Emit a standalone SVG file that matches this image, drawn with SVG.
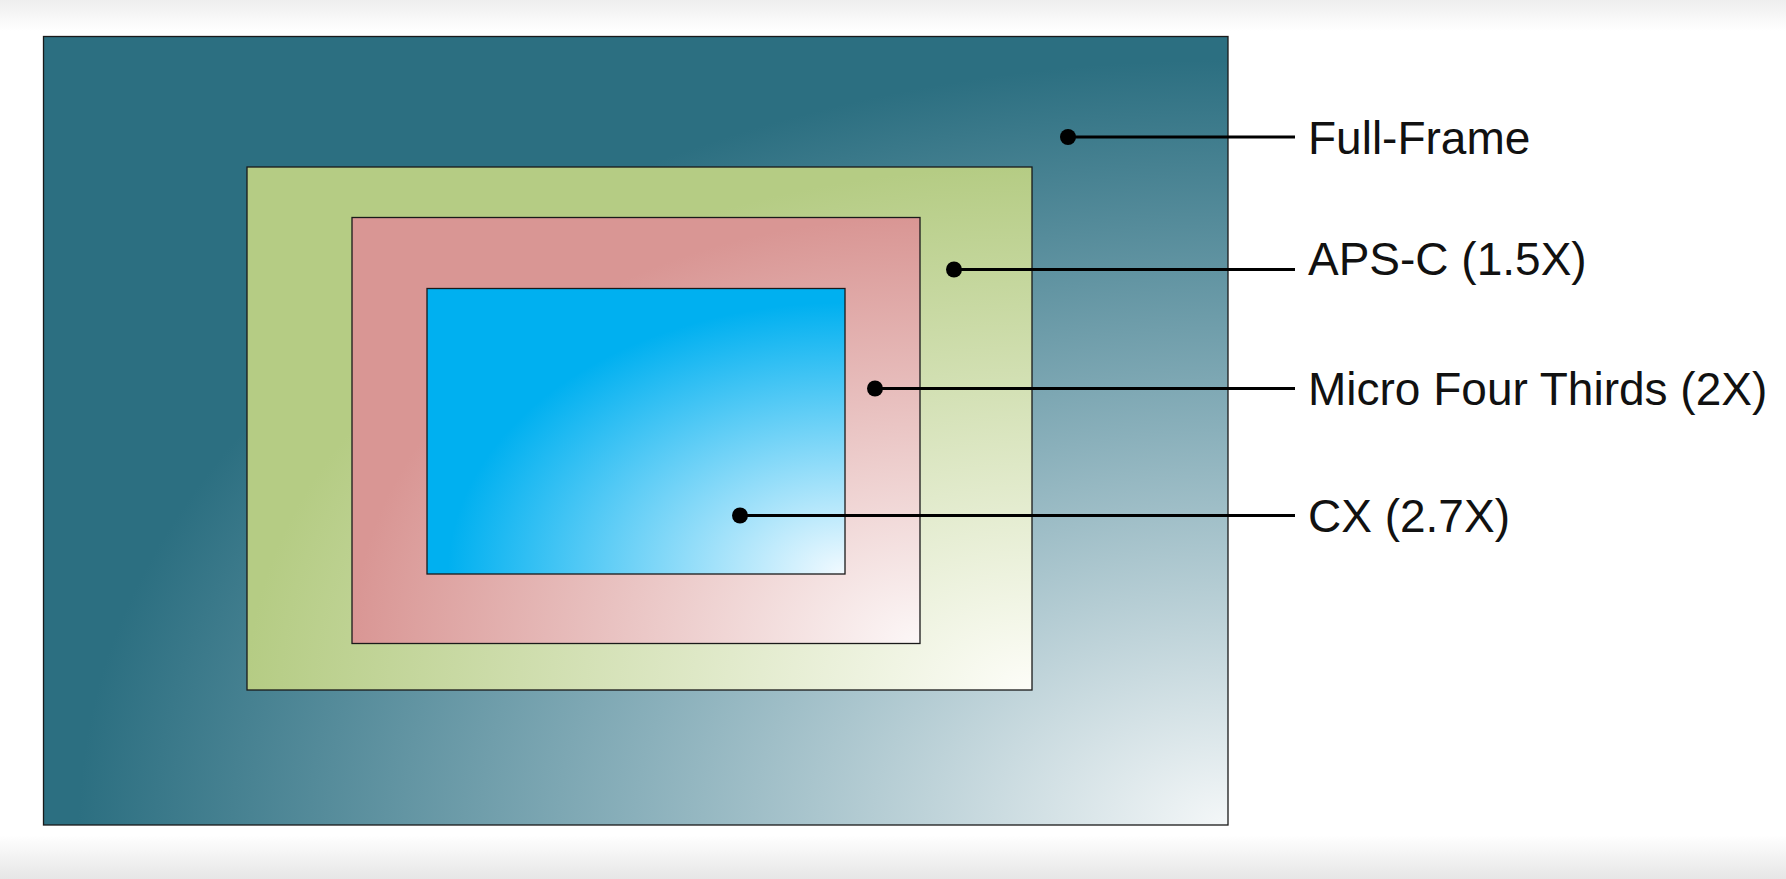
<svg xmlns="http://www.w3.org/2000/svg" width="1786" height="879" viewBox="0 0 1786 879">
  <style>
    .frame { stroke: #1a1a1a; stroke-width: 1.3; }
    .lbl { font-family: "Liberation Sans", Arial, sans-serif; font-size: 46px; fill: #111; }
    .lead { stroke: #000; stroke-width: 3.2; fill: none; }
    .dot { fill: #000; }
  </style>
  <defs>
    <linearGradient id="bg" x1="0" y1="0" x2="0" y2="1">
      <stop offset="0" stop-color="#eeeeee"/>
      <stop offset="0.035" stop-color="#ffffff"/>
      <stop offset="0.95" stop-color="#ffffff"/>
      <stop offset="1" stop-color="#e6e6e6"/>
    </linearGradient>
    <radialGradient id="gTeal" cx="1" cy="1" r="1" fx="1" fy="1">
      <stop offset="0" stop-color="#f4f7f8"/>
      <stop offset="0.5" stop-color="#8ab0bb"/>
      <stop offset="0.97" stop-color="#2c6f81"/>
    </radialGradient>
    <radialGradient id="gGreen" cx="1" cy="1" r="1" fx="1" fy="1">
      <stop offset="0" stop-color="#fdfdf8"/>
      <stop offset="1" stop-color="#b5cc84"/>
    </radialGradient>
    <radialGradient id="gPink" cx="1" cy="1" r="1" fx="1" fy="1">
      <stop offset="0" stop-color="#fcf7f7"/>
      <stop offset="1" stop-color="#d99694"/>
    </radialGradient>
    <radialGradient id="gBlue" cx="1" cy="1" r="1" fx="1" fy="1">
      <stop offset="0" stop-color="#f2faff"/>
      <stop offset="0.95" stop-color="#00b0f0"/>
      <stop offset="1" stop-color="#00b0f0"/>
    </radialGradient>
  </defs>

  <rect x="0" y="0" width="1786" height="879" fill="url(#bg)"/>

  <g id="full-frame">
    <rect class="frame" x="43.5" y="36.5" width="1184.5" height="788.5" fill="url(#gTeal)"/>
  </g>
  <g id="aps-c">
    <rect class="frame" x="247" y="167" width="785" height="523" fill="url(#gGreen)"/>
  </g>
  <g id="micro-four-thirds">
    <rect class="frame" x="352" y="217.5" width="568" height="426" fill="url(#gPink)"/>
  </g>
  <g id="cx">
    <rect class="frame" x="427" y="288.5" width="418" height="285.5" fill="url(#gBlue)"/>
  </g>

  <g id="connectors">
    <line class="lead" x1="1068" y1="137" x2="1295" y2="137"/>
    <circle class="dot" cx="1068" cy="137" r="8"/>
    <line class="lead" x1="954" y1="269.5" x2="1295" y2="269.5"/>
    <circle class="dot" cx="954" cy="269.5" r="8"/>
    <line class="lead" x1="875" y1="388.5" x2="1295" y2="388.5"/>
    <circle class="dot" cx="875" cy="388.5" r="8"/>
    <line class="lead" x1="740" y1="515.5" x2="1295" y2="515.5"/>
    <circle class="dot" cx="740" cy="515.5" r="8"/>
  </g>

  <g id="labels">
    <text class="lbl" x="1308" y="154">Full-Frame</text>
    <text class="lbl" x="1308" y="275">APS-C (1.5X)</text>
    <text class="lbl" x="1308" y="405">Micro Four Thirds (2X)</text>
    <text class="lbl" x="1308" y="532">CX (2.7X)</text>
  </g>
</svg>
